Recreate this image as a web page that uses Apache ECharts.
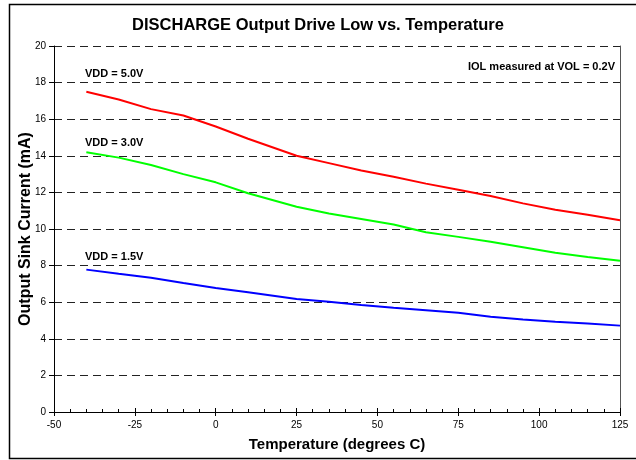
<!DOCTYPE html>
<html>
<head>
<meta charset="utf-8">
<script src="https://cdn.jsdelivr.net/npm/echarts@6/dist/echarts.min.js"></script>
<style>
  html, body { margin: 0; padding: 0; background: #fff; }
  #main { width: 636px; height: 460px; }
</style>
</head>
<body>
<div id="main"></div>
<script>
// temperatures (degrees C) where the curves are sampled
var temps = [-40, -30, -20, -10, 0, 10, 25, 35, 45, 55, 65, 75, 85, 95, 105, 115, 125];
// output sink current (mA)
var vdd50 = [17.5, 17.08, 16.55, 16.2, 15.6, 14.93, 14.0, 13.6, 13.2, 12.85, 12.48, 12.15, 11.8, 11.4, 11.05, 10.78, 10.48];
var vdd30 = [14.2, 13.9, 13.5, 13.0, 12.55, 11.95, 11.22, 10.85, 10.55, 10.25, 9.82, 9.57, 9.3, 9.0, 8.7, 8.47, 8.27];
var vdd15 = [7.78, 7.55, 7.33, 7.05, 6.78, 6.55, 6.18, 6.03, 5.85, 5.7, 5.56, 5.42, 5.2, 5.05, 4.93, 4.83, 4.72];

var seriesNames = ['VDD = 5.0V', 'VDD = 3.0V', 'VDD = 1.5V'];
var seriesColors = ['#ff0000', '#00ff00', '#0000ff'];

function pairs(vals) {
  var out = [];
  for (var i = 0; i < temps.length; i++) out.push([temps[i], vals[i]]);
  return out;
}

var font = '"Liberation Sans", Arial, sans-serif';
var chart = echarts.init(document.getElementById('main'));

var option = {
  animation: false,
  title: {
    text: 'DISCHARGE Output Drive Low vs. Temperature',
    left: 'center',
    top: 12,
    textStyle: { fontFamily: font, fontSize: 16.5, fontWeight: 'bold', color: '#000' }
  },
  grid: { left: 54, right: 16, top: 46, bottom: 48 },
  xAxis: [
    {
      type: 'value', min: -50, max: 125, interval: 25,
      name: 'Temperature (degrees C)', nameLocation: 'middle', nameGap: 25,
      nameMoveOverlap: false,
      nameTextStyle: { fontFamily: font, fontSize: 15, fontWeight: 'bold', color: '#000' },
      axisLine: { onZero: false, lineStyle: { color: '#000', width: 1 } },
      axisTick: { length: 4, lineStyle: { color: '#000' } },
      axisLabel: { fontFamily: font, fontSize: 10, color: '#000', margin: 8 },
      splitLine: { show: false }
    },
    {
      type: 'value', min: -50, max: 125, interval: 25, position: 'bottom',
      axisLine: { show: false, onZero: false },
      axisTick: { inside: true, length: 4, lineStyle: { color: '#000' } },
      minorTick: { show: true, splitNumber: 5, length: 3, lineStyle: { color: '#000' } },
      axisLabel: { show: false },
      splitLine: { show: false }
    }
  ],
  yAxis: [
    {
      type: 'value', min: 0, max: 20, interval: 2,
      name: 'Output Sink Current (mA)', nameLocation: 'middle', nameGap: 20,
      nameMoveOverlap: false,
      nameTextStyle: { fontFamily: font, fontSize: 16, fontWeight: 'bold', color: '#000' },
      axisLine: { show: true, onZero: false, lineStyle: { color: '#000', width: 1 } },
      axisTick: { show: true, length: 5, lineStyle: { color: '#000' } },
      axisLabel: { fontFamily: font, fontSize: 10, color: '#000', margin: 8 },
      splitLine: { show: true, lineStyle: { color: '#222', width: 1, type: [8, 5] } }
    },
    {
      type: 'value', min: 0, max: 20, position: 'right',
      axisLine: { show: true, onZero: false, lineStyle: { color: '#555', width: 1 } },
      axisTick: { show: false },
      axisLabel: { show: false },
      splitLine: { show: false }
    }
  ],
  series: [0, 1, 2].map(function (k) {
    return {
      name: seriesNames[k],
      type: 'line',
      data: pairs([vdd50, vdd30, vdd15][k]),
      showSymbol: false,
      symbol: 'none',
      lineStyle: { color: seriesColors[k], width: 2 },
      itemStyle: { color: seriesColors[k] }
    };
  }),
  graphic: [
    // outer chart frame (its right side runs off the picture)
    { type: 'rect', shape: { x: 9.5, y: 4.5, width: 640, height: 454 },
      style: { fill: null, stroke: '#000', lineWidth: 1.5 }, silent: true },
    { type: 'text', left: 85, top: 68,
      style: { text: seriesNames[0], font: 'bold 11px ' + font, fill: '#000' } },
    { type: 'text', left: 85, top: 137,
      style: { text: seriesNames[1], font: 'bold 11px ' + font, fill: '#000' } },
    { type: 'text', left: 85, top: 251,
      style: { text: seriesNames[2], font: 'bold 11px ' + font, fill: '#000' } },
    { type: 'text', right: 21, top: 61,
      style: { text: 'IOL measured at VOL = 0.2V', font: 'bold 11px ' + font, fill: '#000' } }
  ]
};

chart.setOption(option);
</script>
</body>
</html>
